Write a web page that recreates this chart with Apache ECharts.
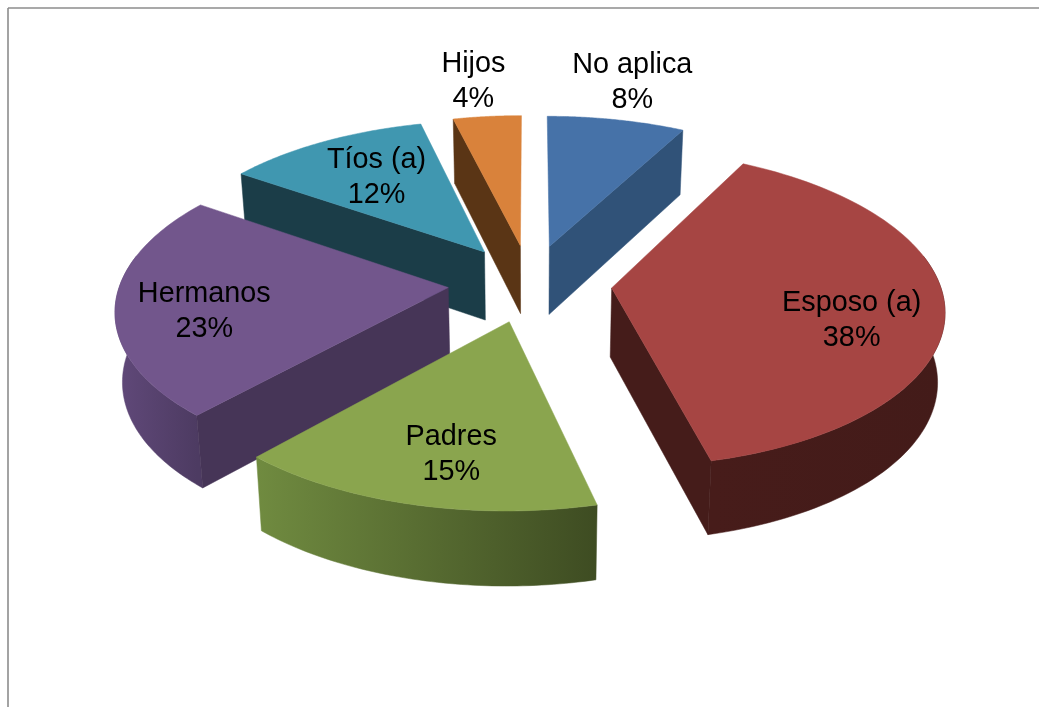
<!DOCTYPE html>
<html>
<head>
<meta charset="utf-8">
<style>html,body{margin:0;padding:0;background:#fff}#c{width:1039px;height:707px}</style>
<script src="https://cdn.jsdelivr.net/npm/echarts@6/dist/echarts.min.js"></script>
</head>
<body>
<div id="c"></div>
<script>
// Data
var categories = ['No aplica', 'Esposo (a)', 'Padres', 'Hermanos', 'Tíos (a)', 'Hijos'];
var percents = [7.8, 38.4, 15.45, 22.9, 11.55, 3.85];

// Style
var topColors = ['#4672a8', '#a64543', '#8aa54e', '#72568c', '#4097b0', '#d9823b'];
var cutColors = ['#305278', '#451c1a', '#4a5a28', '#463557', '#1b3d48', '#5a3515'];
var wallFrom  = ['#305278', '#471c1a', '#708b40', '#61497a', '#1b3d48', '#5a3515'];
var wallTo    = ['#305278', '#431b19', '#3e4c22', '#4d3b62', '#1b3d48', '#5a3515'];
var labelOffset = [[83, -164], [240, 33], [-58, 133], [-244, 24], [-108, -74], [-47, -164]];

// Projection of the exploded pie
var CX = 530, CY = 283, RX = 328, RY = 155, PERSP = 8, EXPLODE = 0.25, DEPTH = 69, TAPER = 0.982;
var RAD = Math.PI / 180;
var total = percents.reduce(function (a, b) { return a + b; }, 0);
var starts = [], acc = 0;
percents.forEach(function (p) { starts.push(acc / total * 360); acc += p; });

function topPoint(X, Y) {
  var s = PERSP / (PERSP + Y);
  return [CX + RX * X * s, CY - RY * Y * s, s];
}
function lower(p) {
  return [CX + (p[0] - CX) * TAPER, p[1] + DEPTH * Math.sqrt(p[2])];
}
function xy(p) { return [p[0], p[1]]; }

function renderSlice(params, api) {
  var value = api.value(0), i = api.value(1);
  var sweep = value / total * 360, a0 = starts[i], a1 = a0 + sweep, mid = (a0 + a1) / 2 * RAD;
  var ox = EXPLODE * Math.sin(mid), oy = EXPLODE * Math.cos(mid);
  var at = function (deg) { return topPoint(ox + Math.sin(deg * RAD), oy + Math.cos(deg * RAD)); };
  var apex = topPoint(ox, oy);
  var children = [];
  function poly(points, fill) {
    children.push({ type: 'polygon', shape: { points: points }, style: { fill: fill, stroke: fill, lineWidth: 0.5 } });
  }
  // curved outer wall, front-facing part only
  var w0 = Math.max(a0, 78), w1 = Math.min(a1, 282);
  if (w1 > w0) {
    var up = [], down = [];
    for (var k = 0; k <= 60; k++) {
      var p = at(w0 + (w1 - w0) * k / 60);
      up.push(xy(p));
      down.unshift(lower(p));
    }
    var xs = up.map(function (q) { return q[0]; });
    var minX = Math.min.apply(null, xs), maxX = Math.max.apply(null, xs);
    poly(up.concat(down), {
      type: 'linear', x: minX, y: 0, x2: maxX, y2: 0, global: true,
      colorStops: [{ offset: 0, color: wallFrom[i] }, { offset: 1, color: wallTo[i] }]
    });
  }
  // cut face at the slice's visible straight edge
  var edgeAngles = [];
  if (Math.cos((a0 - 90) * RAD) < -0.01) edgeAngles.push(a0);
  if (Math.cos((a1 + 90) * RAD) < -0.01) edgeAngles.push(a1);
  edgeAngles.forEach(function (d) {
    var p = at(d);
    poly([xy(apex), xy(p), lower(p), lower(apex)], cutColors[i]);
  });
  // top face
  var face = [xy(apex)];
  for (var n = 0; n <= 80; n++) face.push(xy(at(a0 + sweep * n / 80)));
  poly(face, topColors[i]);
  return { type: 'group', children: children };
}

function renderLabel(params, api) {
  var value = api.value(0), i = api.value(1);
  var mid = (starts[i] + value / total * 180) * RAD;
  var apex = topPoint(EXPLODE * Math.sin(mid), EXPLODE * Math.cos(mid));
  return {
    type: 'text',
    style: {
      text: categories[i] + '\n' + Math.round(value) + '%',
      x: apex[0] + labelOffset[i][0], y: apex[1] + labelOffset[i][1],
      align: 'center', verticalAlign: 'middle',
      font: '28.8px "Liberation Sans", Arial, sans-serif', lineHeight: 35, fill: '#000'
    }
  };
}

// back-to-front drawing order
var order = percents.map(function (p, i) { return i; }).sort(function (a, b) {
  var ma = starts[a] + percents[a] / total * 180, mb = starts[b] + percents[b] / total * 180;
  return Math.cos(mb * RAD) - Math.cos(ma * RAD);
});
var sliceData = order.map(function (i) { return [percents[i], i]; });

var chart = echarts.init(document.getElementById('c'), null, { renderer: 'canvas' });
chart.setOption({
  animation: false,
  backgroundColor: '#ffffff',
  graphic: [
    { type: 'line', shape: { x1: 8, y1: 8, x2: 1039, y2: 8 }, style: { stroke: '#8c8c8c', lineWidth: 1.6 }, silent: true },
    { type: 'line', shape: { x1: 8, y1: 8, x2: 8, y2: 707 }, style: { stroke: '#8c8c8c', lineWidth: 1.6 }, silent: true }
  ],
  series: [
    { type: 'custom', coordinateSystem: 'none', renderItem: renderSlice, data: sliceData, silent: true, z: 2 },
    { type: 'custom', coordinateSystem: 'none', renderItem: renderLabel, data: sliceData, silent: true, z: 3 }
  ]
});
</script>
</body>
</html>
